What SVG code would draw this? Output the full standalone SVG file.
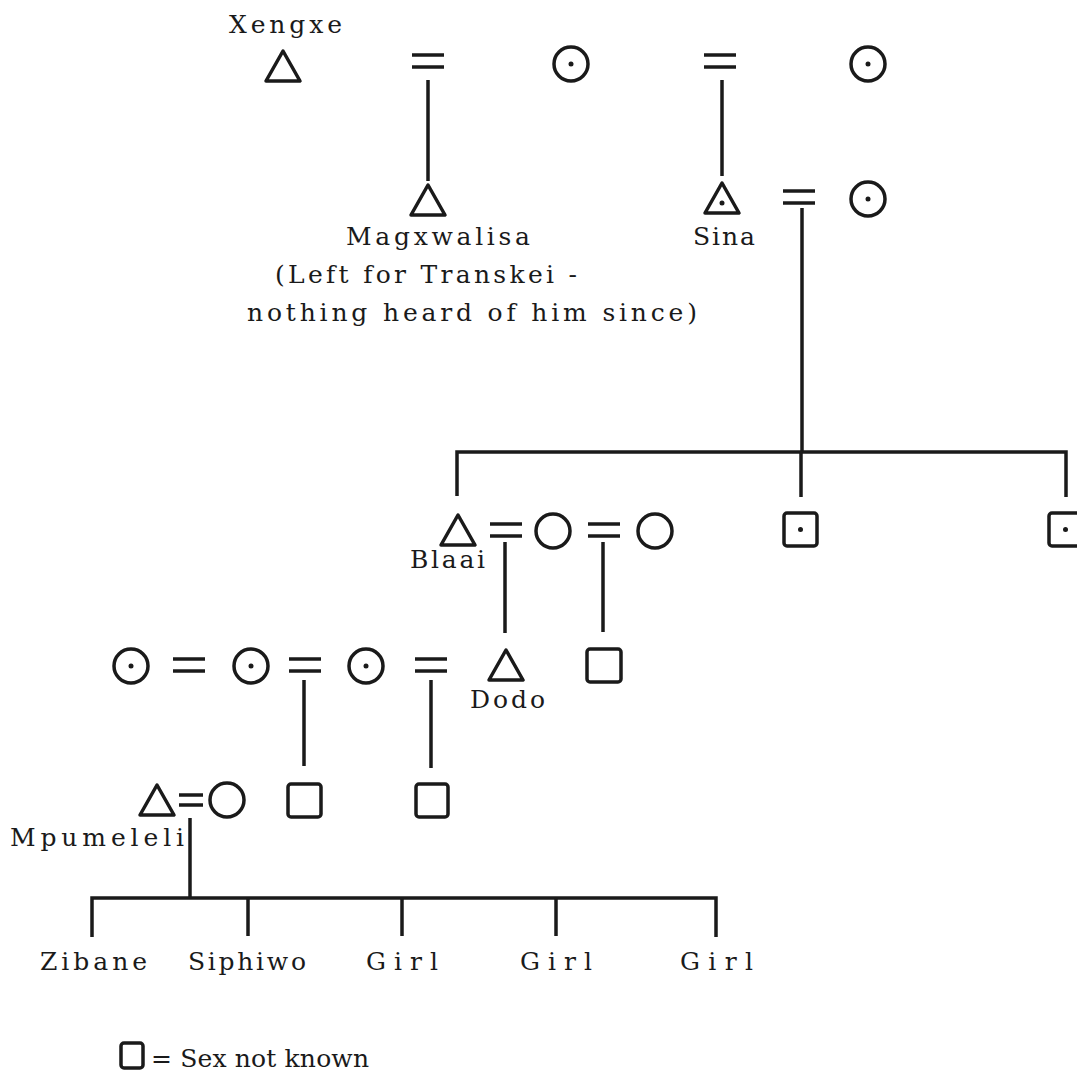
<svg xmlns="http://www.w3.org/2000/svg" width="1077" height="1075" viewBox="0 0 1077 1075">
<style>
.s{fill:none;stroke:#1a1a1a;stroke-width:3.5;stroke-linejoin:round;stroke-linecap:round}
.l{fill:none;stroke:#1a1a1a;stroke-width:3.5;stroke-linecap:butt}
.d{fill:#1a1a1a}
.t{font-family:"DejaVu Serif","Liberation Serif",serif;font-size:25px;fill:#1a1a1a}
</style>
<defs>
<polygon id="tri" class="s" points="0,-15 17,15 -17,15"/>
<g id="eq"><line class="l" x1="-16" y1="-6" x2="16" y2="-6"/><line class="l" x1="-16" y1="6" x2="16" y2="6"/></g>
<g id="eqs"><line class="l" x1="-12" y1="-5" x2="12" y2="-5"/><line class="l" x1="-12" y1="5" x2="12" y2="5"/></g>
</defs>
<rect width="1077" height="1075" fill="#ffffff"/>
<g id="connectors">
<line class="l" x1="428" y1="80" x2="428" y2="181"/>
<line class="l" x1="722" y1="80" x2="722" y2="176"/>
<line class="l" x1="802" y1="208" x2="802" y2="452"/>
<polyline class="l" points="457,496 457,452 1066,452 1066,497"/>
<line class="l" x1="801" y1="452" x2="801" y2="497"/>
<line class="l" x1="505" y1="542" x2="505" y2="633"/>
<line class="l" x1="603" y1="542" x2="603" y2="632"/>
<line class="l" x1="304" y1="680" x2="304" y2="766"/>
<line class="l" x1="431" y1="680" x2="431" y2="768"/>
<line class="l" x1="190" y1="818" x2="190" y2="898"/>
<polyline class="l" points="92,937 92,898 716,898 716,937"/>
<line class="l" x1="248" y1="898" x2="248" y2="936"/>
<line class="l" x1="402" y1="898" x2="402" y2="936"/>
<line class="l" x1="556" y1="898" x2="556" y2="936"/>
</g>
<g id="xengxe"><use href="#tri" x="283" y="66"/><text class="t" x="229" y="33" textLength="113" lengthAdjust="spacing">Xengxe</text></g>
<g id="m1"><use href="#eq" x="428" y="61"/></g>
<g id="wife1"><circle class="s" cx="571" cy="64" r="17"/><circle class="d" cx="571" cy="64" r="2.5"/></g>
<g id="m2"><use href="#eq" x="720" y="61"/></g>
<g id="wife2"><circle class="s" cx="868" cy="64" r="17"/><circle class="d" cx="868" cy="64" r="2.5"/></g>
<g id="magxwalisa"><use href="#tri" x="428" y="200"/><text class="t" x="346" y="245" textLength="184" lengthAdjust="spacing">Magxwalisa</text>
<text class="t" x="275" y="283" textLength="302" lengthAdjust="spacing">(Left for Transkei -</text>
<text class="t" x="247" y="321" textLength="450" lengthAdjust="spacing">nothing heard of him since)</text></g>
<g id="sina"><use href="#tri" x="722" y="198"/><circle class="d" cx="722" cy="203" r="2.5"/><text class="t" x="693" y="245" textLength="62" lengthAdjust="spacing">Sina</text></g>
<g id="m3"><use href="#eq" x="799" y="197"/></g>
<g id="sinawife"><circle class="s" cx="868" cy="199" r="17"/><circle class="d" cx="868" cy="199" r="2.5"/></g>
<g id="blaai"><use href="#tri" x="458" y="530"/><text class="t" x="410" y="568" textLength="75" lengthAdjust="spacing">Blaai</text></g>
<g id="m4"><use href="#eq" x="506" y="530"/></g>
<g id="bwife1"><circle class="s" cx="553" cy="531" r="17"/></g>
<g id="m5"><use href="#eq" x="604" y="530"/></g>
<g id="bwife2"><circle class="s" cx="655" cy="531" r="17"/></g>
<g id="sib1"><rect class="s" x="784" y="513" width="33" height="33" rx="3"/><circle class="d" cx="800.5" cy="529.5" r="2.5"/></g>
<g id="sib2"><rect class="s" x="1049" y="513" width="33" height="33" rx="3"/><circle class="d" cx="1065.5" cy="529.5" r="2.5"/></g>
<g id="dwife1"><circle class="s" cx="131" cy="666" r="17"/><circle class="d" cx="131" cy="666" r="2.5"/></g>
<g id="m6"><use href="#eq" x="189" y="665"/></g>
<g id="dwife2"><circle class="s" cx="251" cy="666" r="17"/><circle class="d" cx="251" cy="666" r="2.5"/></g>
<g id="m7"><use href="#eq" x="305" y="665"/></g>
<g id="dwife3"><circle class="s" cx="366" cy="666" r="17"/><circle class="d" cx="366" cy="666" r="2.5"/></g>
<g id="m8"><use href="#eq" x="431" y="665"/></g>
<g id="dodo"><use href="#tri" x="506" y="665"/><text class="t" x="470" y="708" textLength="75" lengthAdjust="spacing">Dodo</text></g>
<g id="bchild2"><rect class="s" x="587" y="649" width="34" height="33" rx="3"/></g>
<g id="mpumeleli"><use href="#tri" x="157" y="800"/><text class="t" x="10" y="846" textLength="174" lengthAdjust="spacing">Mpumeleli</text></g>
<g id="m9"><use href="#eqs" x="191" y="800"/></g>
<g id="mwife"><circle class="s" cx="227" cy="800" r="17"/></g>
<g id="dchild1"><rect class="s" x="288" y="784" width="33" height="33" rx="3"/></g>
<g id="dchild2"><rect class="s" x="416" y="784" width="32" height="33" rx="3"/></g>
<g id="zibane"><text class="t" x="40" y="970" textLength="107" lengthAdjust="spacing">Zibane</text></g>
<g id="siphiwo"><text class="t" x="188" y="970" textLength="118" lengthAdjust="spacing">Siphiwo</text></g>
<g id="girl1"><text class="t" x="366" y="970" textLength="72" lengthAdjust="spacing">Girl</text></g>
<g id="girl2"><text class="t" x="520" y="970" textLength="72" lengthAdjust="spacing">Girl</text></g>
<g id="girl3"><text class="t" x="680" y="970" textLength="73" lengthAdjust="spacing">Girl</text></g>
<g id="legend"><rect class="s" x="121" y="1043" width="22" height="25" rx="3"/><text class="t" x="151" y="1067" textLength="218" lengthAdjust="spacing">= Sex not known</text></g>
</svg>
